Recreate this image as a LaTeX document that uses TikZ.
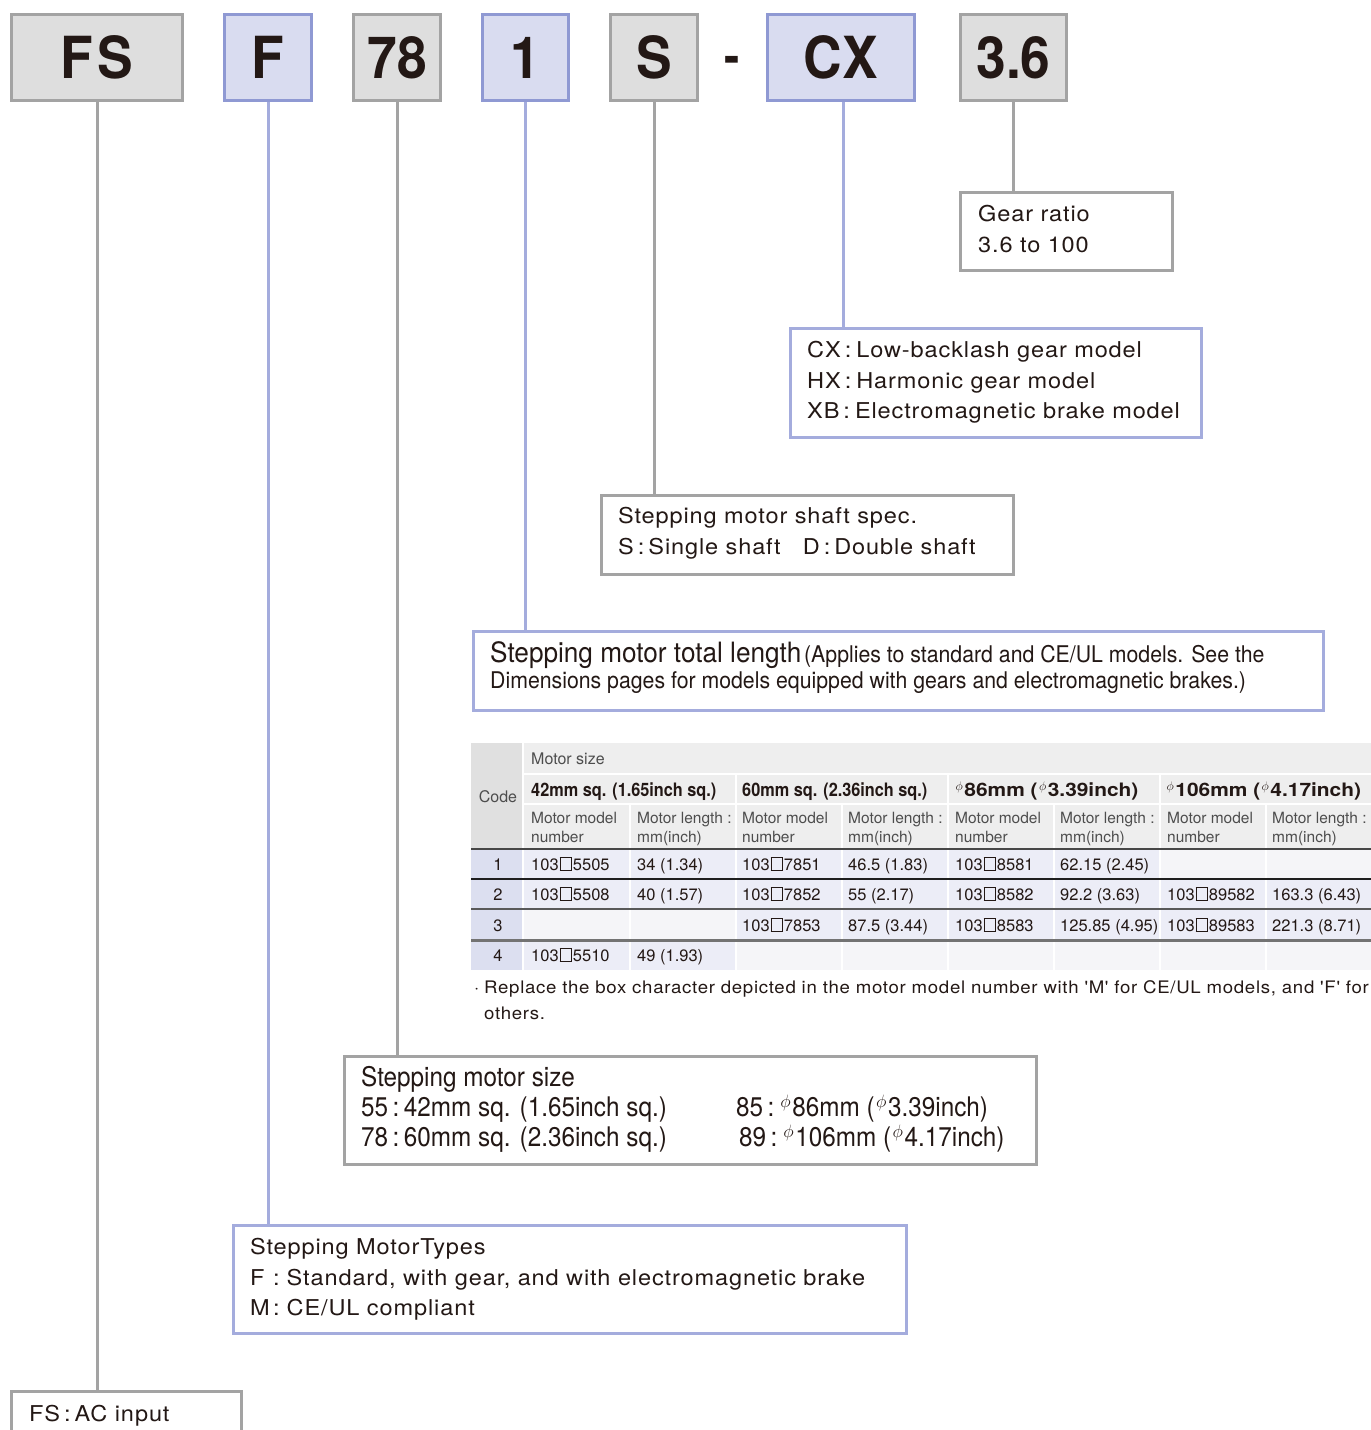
\documentclass[tikz,border=0pt]{standalone}
\usepackage{fontspec}
\usepackage{graphicx}
\setmainfont{TeX Gyre Heros}
\newfontfamily\widef{TeX Gyre Heros}[FakeStretch=1.08,LetterSpace=4]
\newfontfamily\condf{TeX Gyre Heros}[FakeStretch=0.9]
\newfontfamily\condtf{TeX Gyre Heros}[FakeStretch=0.935]
\newfontfamily\condsf{TeX Gyre Heros}[FakeStretch=0.925]
\newfontfamily\bigf{TeX Gyre Heros}[FakeStretch=0.92]
\newfontfamily\hdf{TeX Gyre Heros}[FakeStretch=0.88]
\newfontfamily\hdwf{TeX Gyre Heros}[FakeStretch=1.13]
\definecolor{ink}{HTML}{231815}
\definecolor{gfill}{HTML}{DEDEDE}
\definecolor{gline}{HTML}{A3A3A3}
\definecolor{lfill}{HTML}{D9DCF0}
\definecolor{lline}{HTML}{8F99D3}
\definecolor{lconn}{HTML}{A4ACDD}
\definecolor{thead}{HTML}{EEEEEE}
\definecolor{tcode}{HTML}{E0E0E0}
\definecolor{tcodel}{HTML}{DCDFF0}
\definecolor{tcell}{HTML}{ECEDF7}
\definecolor{tempty}{HTML}{F5F5F8}
\definecolor{tsub}{HTML}{4D4D4D}
\newcommand\dia{\kern1.5pt\raisebox{0.3em}{\scalebox{0.72}{$\phi$}}\kern1.5pt}
\newcommand\bx{\kern1pt{\fboxsep=0pt\fboxrule=0.6pt\fbox{\rule{0pt}{12pt}\rule{11pt}{0pt}}}\kern1pt}
\begin{document}
\begin{tikzpicture}[x=1pt,y=-1pt,
  codebox/.style={draw, line width=3pt, inner sep=0pt, text=ink, font=\bigf\bfseries\fontsize{58}{58}\selectfont},
  graybox/.style={codebox, fill=gfill, draw=gline},
  lavbox/.style={codebox, fill=lfill, draw=lline},
  descg/.style={draw=gline, line width=3pt, fill=white, inner sep=0pt},
  descl/.style={draw=lconn, line width=3pt, fill=white, inner sep=0pt},
  conng/.style={draw=gline, line width=3pt},
  connl/.style={draw=lconn, line width=3pt},
  dtext/.style={anchor=base west, inner sep=0pt, text=ink, font=\widef\fontsize{21.8}{26}\selectfont},
  ctext/.style={anchor=base west, inner sep=0pt, text=ink, font=\condf\fontsize{27}{30}\selectfont},
  tdat/.style={anchor=base west, inner sep=0pt, text=ink, font=\fontsize{16.5}{16}\selectfont},
  tnum/.style={anchor=base, inner sep=0pt, text=ink, font=\fontsize{16.5}{16}\selectfont},
  tsubh/.style={anchor=base west, inner sep=0pt, text=tsub, font=\fontsize{15.5}{16}\selectfont},
  thd/.style={anchor=base west, inner sep=0pt, text=ink, font=\hdf\bfseries\fontsize{18.5}{19}\selectfont},
  thdw/.style={anchor=base west, inner sep=0pt, text=ink, font=\hdwf\bfseries\fontsize{18.5}{19}\selectfont},
  note/.style={anchor=base west, inner sep=0pt, text=ink, font=\widef\fontsize{17.25}{20}\selectfont}
]
\useasboundingbox (0,0) rectangle (1371,1430);
\clip (0,0) rectangle (1371,1430);
\fill[white] (0,0) rectangle (1371,1430);

% ---- top code boxes
\node[graybox, minimum width=171pt, minimum height=86pt] (fs) at (97,57.5) {F\kern5pt S};
\node[lavbox, minimum width=87pt, minimum height=86pt] (f) at (268,57.5) {F};
\node[graybox, minimum width=87pt, minimum height=86pt] (s78) at (397,57.5) {78};
\node[lavbox, minimum width=86pt, minimum height=86pt] (one) at (525.5,57.5) {1};
\node[graybox, minimum width=87pt, minimum height=86pt] (s) at (654,57.5) {S};
\node[inner sep=0pt, text=ink, font=\bigf\bfseries\fontsize{50}{50}\selectfont] (dash) at (732,65) {-};
\node[lavbox, minimum width=147pt, minimum height=86pt] (cx) at (841,57.5) {CX};
\node[graybox, minimum width=106pt, minimum height=86pt] (r36) at (1013.5,57.5) {3.6};

% ---- description boxes
\node[descg, minimum width=212pt, minimum height=78pt] (gear) at (1066.5,231.5) {};
\node[descl, minimum width=411pt, minimum height=109pt] (cxd) at (996,383) {};
\node[descg, minimum width=412pt, minimum height=79pt] (shaft) at (807.5,535) {};
\node[descl, minimum width=850pt, minimum height=79pt] (total) at (898.5,671) {};
\node[descg, minimum width=692pt, minimum height=108pt] (size) at (690.5,1110.5) {};
\node[descl, minimum width=673pt, minimum height=108pt] (types) at (570,1279.5) {};
\node[descg, minimum width=230pt, minimum height=100pt] (ac) at (126.5,1441.5) {};

% ---- connectors
\draw[conng] (fs.south) -- (fs.south |- ac.north);
\draw[connl] (f.south) -- (f.south |- types.north);
\draw[conng] (s78.south) -- (s78.south |- size.north);
\draw[connl] (one.south) -- (one.south |- total.north);
\draw[conng] (s.south) -- (s.south |- shaft.north);
\draw[connl] ([xshift=2pt]cx.south) -- ([xshift=2pt]cx.south |- cxd.north);
\draw[conng] (r36.south) -- (r36.south |- gear.north);

% ---- description texts
\node[dtext] (gear1) at (978,221) {Gear ratio};
\node[dtext] (gear2) at (978,252) {3.6 to 100};
\node[dtext] (cx1) at (807,357) {CX\hspace{4pt}:\hspace{5pt}Low-backlash gear model};
\node[dtext] (cx2) at (807,388) {HX\hspace{4pt}:\hspace{5pt}Harmonic gear model};
\node[dtext] (cx3) at (807,418) {XB\hspace{4pt}:\hspace{5pt}Electromagnetic brake model};
\node[dtext] (sh1) at (618,523) {Stepping motor shaft spec.};
\node[dtext] (sh2) at (618,554) {S\hspace{4pt}:\hspace{4pt}Single shaft\hspace{22pt}D\hspace{4pt}:\hspace{4pt}Double shaft};
\node[anchor=base west, inner sep=0pt, text=ink] (tl1) at (490,662) {{\condtf\fontsize{28}{30}\selectfont Stepping motor total length} {\condsf\fontsize{23}{26}\selectfont(Applies to standard and CE/UL models. See the}};
\node[anchor=base west, inner sep=0pt, text=ink, font=\condsf\fontsize{23}{26}\selectfont] (tl2) at (490,688) {Dimensions pages for models equipped with gears and electromagnetic brakes.)};
\node[ctext] (sz1) at (361,1086) {Stepping motor size};
\node[ctext] (sz2) at (361,1116) {55\,:\,42mm sq. (1.65inch sq.)};
\node[ctext] (sz3) at (361,1146) {78\,:\,60mm sq. (2.36inch sq.)};
\node[ctext] (sz4) at (736,1116) {85\,:\,\dia86mm (\dia3.39inch)};
\node[ctext] (sz5) at (739,1146) {89\,:\,\dia106mm (\dia4.17inch)};
\node[dtext] (ty1) at (250,1254) {Stepping Motor\hspace{1pt}Types};
\node[dtext] (ty2) at (250,1285) {\makebox[23pt][l]{F}:\hspace{7pt}Standard, with gear, and with electromagnetic brake};
\node[dtext] (ty3) at (250,1315) {\makebox[23pt][l]{M}:\hspace{7pt}CE/UL compliant};
\node[dtext] (ac1) at (29,1421) {FS\hspace{4pt}:\hspace{4pt}AC input};

% ---- table backgrounds
\fill[tcode] (471,743) rectangle (522,848);
\fill[thead] (524,743) rectangle (1371,773);
\foreach \a/\b in {524/735, 737/947, 949/1159, 1161/1371} \fill[thead] (\a,775) rectangle (\b,803);
\foreach \a/\b in {524/629, 631/735, 737/841, 843/947, 949/1053, 1055/1159, 1161/1265, 1267/1371} \fill[thead] (\a,805) rectangle (\b,848);
\foreach \ya/\yb in {850/878, 880/908, 910/939, 941/970} \fill[tcodel] (471,\ya) rectangle (522,\yb);
\foreach \a/\b/\c in {524/629/tcell, 631/735/tcell, 737/841/tcell, 843/947/tcell, 949/1053/tcell, 1055/1159/tcell, 1161/1265/tempty, 1267/1371/tempty} \fill[\c] (\a,850) rectangle (\b,878);
\foreach \a/\b/\c in {524/629/tcell, 631/735/tcell, 737/841/tcell, 843/947/tcell, 949/1053/tcell, 1055/1159/tcell, 1161/1265/tcell, 1267/1371/tcell} \fill[\c] (\a,880) rectangle (\b,908);
\foreach \a/\b/\c in {524/629/tempty, 631/735/tempty, 737/841/tcell, 843/947/tcell, 949/1053/tcell, 1055/1159/tcell, 1161/1265/tcell, 1267/1371/tcell} \fill[\c] (\a,910) rectangle (\b,939);
\foreach \a/\b/\c in {524/629/tcell, 631/735/tcell, 737/841/tempty, 843/947/tempty, 949/1053/tempty, 1055/1159/tempty, 1161/1265/tempty, 1267/1371/tempty} \fill[\c] (\a,941) rectangle (\b,970);
\draw[line width=2pt, color=black!72] (471,849) -- (1371,849);
\draw[line width=1.5pt, color=black!88] (471,879) -- (1371,879);
\draw[line width=1.8pt, color=black!65] (471,909) -- (1371,909);
\draw[line width=3pt, color=black!55] (471,940) -- (1371,940);

% ---- table header text
\node[tsubh, font=\fontsize{16}{16}\selectfont] (tms) at (531,764) {Motor size};
\node[tsubh, anchor=base, font=\fontsize{16}{16}\selectfont] (tcodeh) at (498,802) {Code};
\node[thd] (h1) at (531,796) {42mm sq. (1.65inch sq.)};
\node[thd] (h2) at (742,796) {60mm sq. (2.36inch sq.)};
\node[thdw] (h3) at (954,796) {\dia86mm (\dia3.39inch)};
\node[thdw] (h4) at (1165,796) {\dia106mm (\dia4.17inch)};
\foreach \x/\n in {531/a, 742/b, 955/c, 1167/d} {
  \node[tsubh] (mm\n1) at (\x,823) {Motor model};
  \node[tsubh] (mm\n2) at (\x,842) {number};
}
\foreach \x/\n in {637/a, 848/b, 1060/c, 1272/d} {
  \node[tsubh] (ml\n1) at (\x,823) {Motor length :};
  \node[tsubh] (ml\n2) at (\x,842) {mm(inch)};
}

% ---- table data
\node[tnum] (c1) at (498,870) {1};
\node[tnum] (c2) at (498,900) {2};
\node[tnum] (c3) at (498,931) {3};
\node[tnum] (c4) at (498,961) {4};
\node[tdat] (d11) at (531,870) {103\bx5505};
\node[tdat] (d12) at (637,870) {34 (1.34)};
\node[tdat] (d13) at (742,870) {103\bx7851};
\node[tdat] (d14) at (848,870) {46.5 (1.83)};
\node[tdat] (d15) at (955,870) {103\bx8581};
\node[tdat] (d16) at (1060,870) {62.15 (2.45)};
\node[tdat] (d21) at (531,900) {103\bx5508};
\node[tdat] (d22) at (637,900) {40 (1.57)};
\node[tdat] (d23) at (742,900) {103\bx7852};
\node[tdat] (d24) at (848,900) {55 (2.17)};
\node[tdat] (d25) at (955,900) {103\bx8582};
\node[tdat] (d26) at (1060,900) {92.2 (3.63)};
\node[tdat] (d27) at (1167,900) {103\bx89582};
\node[tdat] (d28) at (1272,900) {163.3 (6.43)};
\node[tdat] (d33) at (742,931) {103\bx7853};
\node[tdat] (d34) at (848,931) {87.5 (3.44)};
\node[tdat] (d35) at (955,931) {103\bx8583};
\node[tdat] (d36) at (1060,931) {125.85 (4.95)};
\node[tdat] (d37) at (1167,931) {103\bx89583};
\node[tdat] (d38) at (1272,931) {221.3 (8.71)};
\node[tdat] (d41) at (531,961) {103\bx5510};
\node[tdat] (d42) at (637,961) {49 (1.93)};

% ---- note
\node[note] (n0) at (474,993) {·};
\node[note] (n1) at (484,993) {Replace the box character depicted in the motor model number with 'M' for CE/UL models, and 'F' for};
\node[note] (n2) at (484,1019) {others.};
\end{tikzpicture}
\end{document}
